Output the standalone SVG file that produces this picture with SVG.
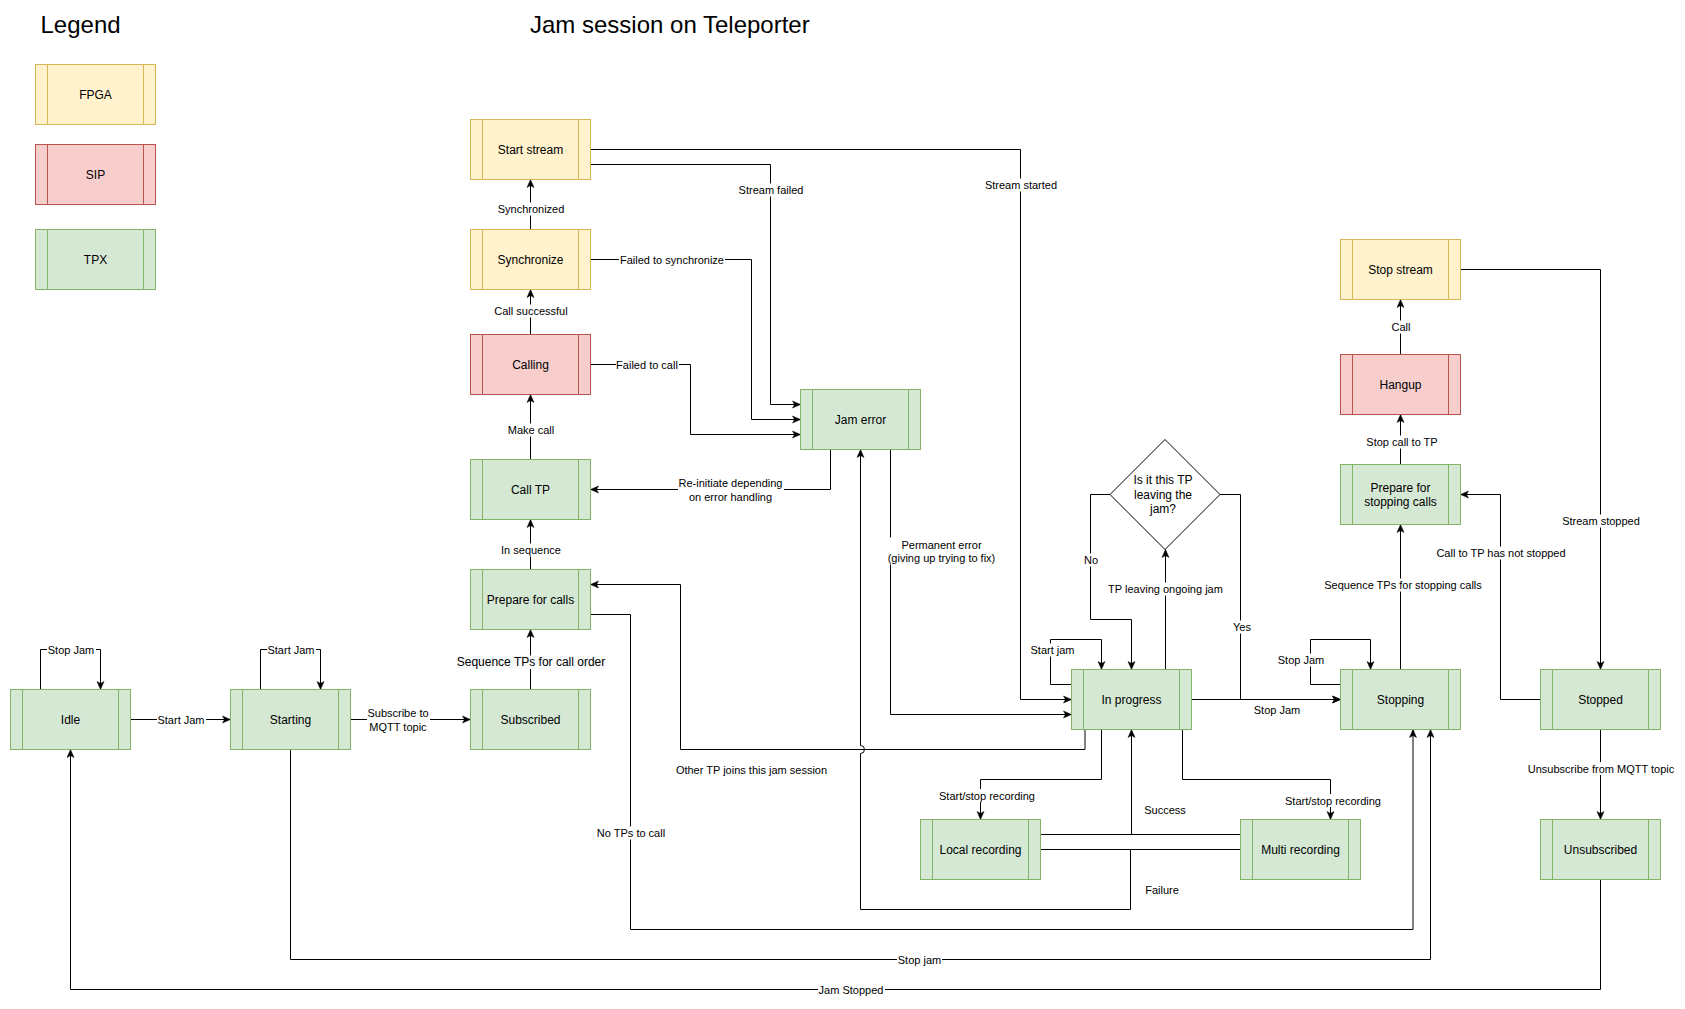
<svg xmlns="http://www.w3.org/2000/svg" width="1685" height="1009" viewBox="0 0 1685 1009">
<style>
.n rect,.n line{stroke-width:1}
.fpga rect{fill:#fff2cc;stroke:#d6b656}.fpga line{stroke:#d6b656}
.sip rect{fill:#f8cecc;stroke:#b85450}.sip line{stroke:#b85450}
.tpx rect{fill:#d5e8d4;stroke:#82b366}.tpx line{stroke:#82b366}
.nt{font-family:"Liberation Sans",Arial,sans-serif;font-size:12px;fill:#000;text-anchor:middle}
.e path{fill:none;stroke:#000;stroke-width:1}
.a{marker-end:url(#arr)}
.el{font-family:"Liberation Sans",Arial,sans-serif;font-size:11px;fill:#000;text-anchor:middle}
.lb{fill:#fff}
.ttl{font-family:"Liberation Sans",Arial,sans-serif;font-size:24px;fill:#000}
</style>
<defs>
<marker id="arr" markerUnits="userSpaceOnUse" markerWidth="9" markerHeight="9" viewBox="0 0 9 9" refX="8.5" refY="4.5" orient="auto">
<path d="M0.5,1 L8.5,4.5 L0.5,8 L2.5,4.5 Z" fill="#000" stroke="#000" stroke-width="0.5"/>
</marker>
</defs>
<rect width="1685" height="1009" fill="#fff"/>
<text class="ttl" x="40.5" y="33">Legend</text>
<text class="ttl" x="530" y="33">Jam session on Teleporter</text>

<g id="legend-fpga" class="n fpga"><rect x="35.5" y="64.5" width="120" height="60"/><line x1="47.5" y1="64.5" x2="47.5" y2="124.5"/><line x1="143.5" y1="64.5" x2="143.5" y2="124.5"/><text class="nt" x="95.5" y="98.7">FPGA</text></g>
<g id="legend-sip" class="n sip"><rect x="35.5" y="144.5" width="120" height="60"/><line x1="47.5" y1="144.5" x2="47.5" y2="204.5"/><line x1="143.5" y1="144.5" x2="143.5" y2="204.5"/><text class="nt" x="95.5" y="178.7">SIP</text></g>
<g id="legend-tpx" class="n tpx"><rect x="35.5" y="229.5" width="120" height="60"/><line x1="47.5" y1="229.5" x2="47.5" y2="289.5"/><line x1="143.5" y1="229.5" x2="143.5" y2="289.5"/><text class="nt" x="95.5" y="263.7">TPX</text></g>

<g id="connectors" class="e">
<path class="a" d="M40.5,689.5 V649.5 H100.5 V689.5"/>
<path class="a" d="M260.5,689.5 V649.5 H320.5 V689.5"/>
<path class="a" d="M130.5,719.5 H230.5"/>
<path class="a" d="M350.5,719.5 H470.5"/>
<path class="a" d="M530.5,689.5 V629.5"/>
<path class="a" d="M530.5,569.5 V519.5"/>
<path class="a" d="M530.5,459.5 V394.5"/>
<path class="a" d="M530.5,334.5 V289.5"/>
<path class="a" d="M530.5,229.5 V179.5"/>
<path class="a" d="M590.5,149.5 H1020.5 V699.5 H1071.5"/>
<path class="a" d="M590.5,164.5 H770.5 V404.5 H800.5"/>
<path class="a" d="M590.5,259.5 H751.5 V419.5 H800.5"/>
<path class="a" d="M590.5,364.5 H690.5 V434.5 H800.5"/>
<path class="a" d="M830.5,449.5 V489.5 H590.5"/>
<path class="a" d="M890.5,449.5 V714.5 H1071.5"/>
<path class="a" d="M1085,729.5 V749.5 H680.5 V584.5 H590.5"/>
<path class="a" d="M1101.5,729.5 V779.5 H980.5 V819.5"/>
<path class="a" d="M1182.5,729.5 V779.5 H1330.5 V819.5"/>
<path class="a" d="M1040.5,834.5 H1131.5 V729.5"/>
<path d="M1240.5,834.5 H1131.5"/>
<path class="a" d="M1040.5,849.5 H1130.5 V909.5 H860.5 V753.5 A4,4 0 0 0 860.5,745.5 V449.5"/>
<path d="M1240.5,849.5 H1130.5"/>
<path class="a" d="M1165.5,669.5 V549.5"/>
<path class="a" d="M1110.5,494.5 H1090.5 V619.5 H1131.5 V669.5"/>
<path class="a" d="M1219.5,494.5 H1240.5 V699.5 H1340.5"/>
<path class="a" d="M1191.5,699.5 H1340.5"/>
<path class="a" d="M1071.5,684.5 H1050.5 V639.5 H1101.5 V669.5"/>
<path class="a" d="M1340.5,684.5 H1310.5 V639.5 H1370.5 V669.5"/>
<path class="a" d="M1400.5,669.5 V524.5"/>
<path class="a" d="M1400.5,464.5 V414.5"/>
<path class="a" d="M1400.5,354.5 V299.5"/>
<path class="a" d="M1460.5,269.5 H1600.5 V669.5"/>
<path class="a" d="M1540.5,699.5 H1500.5 V494.5 H1460.5"/>
<path class="a" d="M1600.5,729.5 V819.5"/>
<path class="a" d="M1600.5,879.5 V989.5 H70.5 V749.5"/>
<path class="a" d="M290.5,749.5 V959.5 H1430.5 V729.5"/>
<path class="a" d="M590.5,614.5 H630.5 V929.5 H1413 V729.5"/>

<g id="edge-labels">
<rect class="lb" x="47" y="643" width="49" height="13"/><text class="el" x="71" y="653.5">Stop Jam</text>
<rect class="lb" x="267" y="643" width="49" height="13"/><text class="el" x="291" y="653.5">Start Jam</text>
<rect class="lb" x="157" y="713" width="49" height="13"/><text class="el" x="181" y="723.5">Start Jam</text>
<rect class="lb" x="367" y="706" width="63" height="28"/><text class="el" x="398" y="717.3">Subscribe to</text><text class="el" x="398" y="730.7">MQTT topic</text>
<rect x="457" y="655.5" width="149" height="13.5" fill="#f8f9fa"/><text class="nt" x="531" y="666.2">Sequence TPs for call order</text>
<rect class="lb" x="500" y="543.5" width="62" height="13"/><text class="el" x="531" y="554">In sequence</text>
<rect class="lb" x="507" y="423.5" width="49" height="13"/><text class="el" x="531" y="434">Make call</text>
<rect class="lb" x="494" y="304.5" width="74" height="13"/><text class="el" x="531" y="315">Call successful</text>
<rect class="lb" x="497" y="202.5" width="69" height="13"/><text class="el" x="531" y="213">Synchronized</text>
<rect class="lb" x="984" y="178.5" width="74" height="13"/><text class="el" x="1021" y="189">Stream started</text>
<rect class="lb" x="738" y="183.5" width="67" height="13"/><text class="el" x="771" y="194">Stream failed</text>
<rect class="lb" x="619" y="253" width="106" height="13"/><text class="el" x="672" y="263.5">Failed to synchronize</text>
<rect class="lb" x="616" y="358" width="63" height="13"/><text class="el" x="647" y="368.5">Failed to call</text>
<rect class="lb" x="678" y="476" width="106" height="27"/><text class="el" x="730.5" y="487">Re-initiate depending</text><text class="el" x="730.5" y="500.5">on error handling</text>
<rect class="lb" x="888" y="537.5" width="108" height="27"/><text class="el" x="941.5" y="548.5">Permanent error</text><text class="el" x="941.5" y="561.5">(giving up trying to fix)</text>
<text class="el" x="751.5" y="774">Other TP joins this jam session</text>
<rect class="lb" x="596" y="826.5" width="70" height="13"/><text class="el" x="631" y="837">No TPs to call</text>
<rect class="lb" x="939" y="789" width="97" height="13"/><text class="el" x="987" y="799.5">Start/stop recording</text>
<rect class="lb" x="1285" y="794" width="97" height="13"/><text class="el" x="1333" y="804.7">Start/stop recording</text>
<text class="el" x="1165" y="814">Success</text>
<text class="el" x="1162" y="894">Failure</text>
<rect class="lb" x="897" y="953.5" width="45" height="13"/><text class="el" x="919.5" y="964">Stop jam</text>
<rect class="lb" x="818" y="983" width="67" height="13"/><text class="el" x="851" y="993.5">Jam Stopped</text>
<rect class="lb" x="1108" y="582.5" width="115" height="13"/><text class="el" x="1165.5" y="593">TP leaving ongoing jam</text>
<rect class="lb" x="1083" y="553.5" width="16" height="13"/><text class="el" x="1091" y="564">No</text>
<rect class="lb" x="1232" y="620.5" width="21" height="13"/><text class="el" x="1242" y="631">Yes</text>
<text class="el" x="1277" y="714">Stop Jam</text>
<rect class="lb" x="1030" y="643.5" width="46" height="13"/><text class="el" x="1052.5" y="654">Start jam</text>
<rect class="lb" x="1277" y="653.5" width="49" height="13"/><text class="el" x="1301" y="664">Stop Jam</text>
<rect class="lb" x="1324" y="578.5" width="160" height="13"/><text class="el" x="1403" y="589">Sequence TPs for stopping calls</text>
<rect class="lb" x="1366" y="435.5" width="74" height="13"/><text class="el" x="1402" y="446">Stop call to TP</text>
<rect class="lb" x="1391" y="320.5" width="21" height="13"/><text class="el" x="1401" y="331">Call</text>
<rect class="lb" x="1562" y="514.5" width="80" height="13"/><text class="el" x="1601" y="525">Stream stopped</text>
<rect class="lb" x="1436" y="546.5" width="132" height="13"/><text class="el" x="1501" y="557">Call to TP has not stopped</text>
<rect class="lb" x="1526" y="762" width="150" height="13"/><text class="el" x="1601" y="772.5">Unsubscribe from MQTT topic</text>
</g>
</g>

<g id="node-start-stream" class="n fpga"><rect x="470.5" y="119.5" width="120" height="60"/><line x1="482.5" y1="119.5" x2="482.5" y2="179.5"/><line x1="578.5" y1="119.5" x2="578.5" y2="179.5"/><text class="nt" x="530.5" y="153.7">Start stream</text></g>
<g id="node-synchronize" class="n fpga"><rect x="470.5" y="229.5" width="120" height="60"/><line x1="482.5" y1="229.5" x2="482.5" y2="289.5"/><line x1="578.5" y1="229.5" x2="578.5" y2="289.5"/><text class="nt" x="530.5" y="263.7">Synchronize</text></g>
<g id="node-calling" class="n sip"><rect x="470.5" y="334.5" width="120" height="60"/><line x1="482.5" y1="334.5" x2="482.5" y2="394.5"/><line x1="578.5" y1="334.5" x2="578.5" y2="394.5"/><text class="nt" x="530.5" y="368.7">Calling</text></g>
<g id="node-call-tp" class="n tpx"><rect x="470.5" y="459.5" width="120" height="60"/><line x1="482.5" y1="459.5" x2="482.5" y2="519.5"/><line x1="578.5" y1="459.5" x2="578.5" y2="519.5"/><text class="nt" x="530.5" y="493.7">Call TP</text></g>
<g id="node-prepare-calls" class="n tpx"><rect x="470.5" y="569.5" width="120" height="60"/><line x1="482.5" y1="569.5" x2="482.5" y2="629.5"/><line x1="578.5" y1="569.5" x2="578.5" y2="629.5"/><text class="nt" x="530.5" y="603.7">Prepare for calls</text></g>
<g id="node-subscribed" class="n tpx"><rect x="470.5" y="689.5" width="120" height="60"/><line x1="482.5" y1="689.5" x2="482.5" y2="749.5"/><line x1="578.5" y1="689.5" x2="578.5" y2="749.5"/><text class="nt" x="530.5" y="723.7">Subscribed</text></g>
<g id="node-idle" class="n tpx"><rect x="10.5" y="689.5" width="120" height="60"/><line x1="22.5" y1="689.5" x2="22.5" y2="749.5"/><line x1="118.5" y1="689.5" x2="118.5" y2="749.5"/><text class="nt" x="70.5" y="723.7">Idle</text></g>
<g id="node-starting" class="n tpx"><rect x="230.5" y="689.5" width="120" height="60"/><line x1="242.5" y1="689.5" x2="242.5" y2="749.5"/><line x1="338.5" y1="689.5" x2="338.5" y2="749.5"/><text class="nt" x="290.5" y="723.7">Starting</text></g>
<g id="node-jam-error" class="n tpx"><rect x="800.5" y="389.5" width="120" height="60"/><line x1="812.5" y1="389.5" x2="812.5" y2="449.5"/><line x1="908.5" y1="389.5" x2="908.5" y2="449.5"/><text class="nt" x="860.5" y="423.7">Jam error</text></g>
<g id="node-in-progress" class="n tpx"><rect x="1071.5" y="669.5" width="120" height="60"/><line x1="1083.5" y1="669.5" x2="1083.5" y2="729.5"/><line x1="1179.5" y1="669.5" x2="1179.5" y2="729.5"/><text class="nt" x="1131.5" y="703.7">In progress</text></g>
<g id="node-decision"><polygon points="1165,439.5 1220,494.5 1165,549.5 1110,494.5" fill="#fff" stroke="#000" stroke-width="1"/><text class="nt" x="1163" y="483.7">Is it this TP</text><text class="nt" x="1163" y="498.7">leaving the</text><text class="nt" x="1163" y="512.7">jam?</text></g>
<g id="node-local-recording" class="n tpx"><rect x="920.5" y="819.5" width="120" height="60"/><line x1="932.5" y1="819.5" x2="932.5" y2="879.5"/><line x1="1028.5" y1="819.5" x2="1028.5" y2="879.5"/><text class="nt" x="980.5" y="853.7">Local recording</text></g>
<g id="node-multi-recording" class="n tpx"><rect x="1240.5" y="819.5" width="120" height="60"/><line x1="1252.5" y1="819.5" x2="1252.5" y2="879.5"/><line x1="1348.5" y1="819.5" x2="1348.5" y2="879.5"/><text class="nt" x="1300.5" y="853.7">Multi recording</text></g>
<g id="node-stop-stream" class="n fpga"><rect x="1340.5" y="239.5" width="120" height="60"/><line x1="1352.5" y1="239.5" x2="1352.5" y2="299.5"/><line x1="1448.5" y1="239.5" x2="1448.5" y2="299.5"/><text class="nt" x="1400.5" y="273.7">Stop stream</text></g>
<g id="node-hangup" class="n sip"><rect x="1340.5" y="354.5" width="120" height="60"/><line x1="1352.5" y1="354.5" x2="1352.5" y2="414.5"/><line x1="1448.5" y1="354.5" x2="1448.5" y2="414.5"/><text class="nt" x="1400.5" y="388.7">Hangup</text></g>
<g id="node-prepare-stopping" class="n tpx"><rect x="1340.5" y="464.5" width="120" height="60"/><line x1="1352.5" y1="464.5" x2="1352.5" y2="524.5"/><line x1="1448.5" y1="464.5" x2="1448.5" y2="524.5"/><text class="nt" x="1400.5" y="491.7">Prepare for</text><text class="nt" x="1400.5" y="505.7">stopping calls</text></g>
<g id="node-stopping" class="n tpx"><rect x="1340.5" y="669.5" width="120" height="60"/><line x1="1352.5" y1="669.5" x2="1352.5" y2="729.5"/><line x1="1448.5" y1="669.5" x2="1448.5" y2="729.5"/><text class="nt" x="1400.5" y="703.7">Stopping</text></g>
<g id="node-stopped" class="n tpx"><rect x="1540.5" y="669.5" width="120" height="60"/><line x1="1552.5" y1="669.5" x2="1552.5" y2="729.5"/><line x1="1648.5" y1="669.5" x2="1648.5" y2="729.5"/><text class="nt" x="1600.5" y="703.7">Stopped</text></g>
<g id="node-unsubscribed" class="n tpx"><rect x="1540.5" y="819.5" width="120" height="60"/><line x1="1552.5" y1="819.5" x2="1552.5" y2="879.5"/><line x1="1648.5" y1="819.5" x2="1648.5" y2="879.5"/><text class="nt" x="1600.5" y="853.7">Unsubscribed</text></g>
</svg>
